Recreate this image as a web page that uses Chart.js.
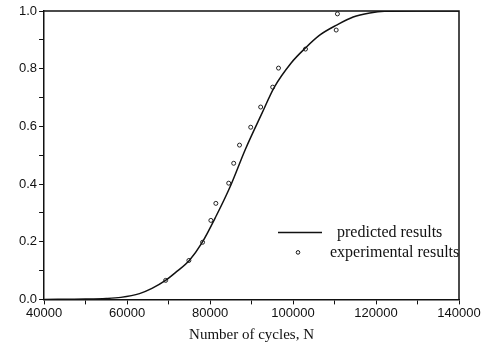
<!DOCTYPE html>
<html>
<head>
<meta charset="utf-8">
<script src="https://cdn.jsdelivr.net/npm/chart.js@4.4.0/dist/chart.umd.min.js"></script>
<style>
  html, body { margin: 0; padding: 0; background: #fff; }
  #wrap { position: relative; width: 487px; height: 347px; }
</style>
</head>
<body>
<div id="wrap"><canvas id="chart" width="487" height="347"></canvas></div>
<script>
// predicted curve
const curveCycles = [40000, 50000, 55000, 58500, 63000, 66000, 69000, 72000, 75000, 78000, 81500, 85000, 88500, 92500, 95500, 99500, 103000, 106500, 110500, 114500, 118500, 122000, 130000, 140000]
const curveFraction = [0, 0.001, 0.003, 0.007, 0.02, 0.038, 0.063, 0.097, 0.135, 0.195, 0.29, 0.396, 0.52, 0.645, 0.736, 0.819, 0.872, 0.917, 0.951, 0.979, 0.993, 0.999, 1.0, 1.0]

// experimental points
const expCycles = [69300, 74900, 78200, 80200, 81400, 84500, 85700, 87100, 89800, 92200, 95100, 96500, 103000, 110400, 110700]
const expFraction = [0.066, 0.135, 0.198, 0.274, 0.333, 0.403, 0.472, 0.535, 0.597, 0.667, 0.736, 0.802, 0.868, 0.934, 0.99]

const seriesNames = ["predicted results", "experimental results"]
const xAxisTitle = "Number of cycles, N"

const xMin = 40000, xMax = 140000, xMajor = 20000, xMinor = 10000
const yMin = 0, yMax = 1, yMinor = 0.1

const tickFont = { family: "'Liberation Sans', Arial, sans-serif", size: 13 }
const serif = "'Liberation Serif', 'Times New Roman', serif"

// frame on top/right + legend inside the plot
const framePlugin = {
  id: "frameLegend",
  afterDraw(chart) {
    const { ctx, chartArea: a } = chart
    ctx.save()
    ctx.strokeStyle = "#111"
    ctx.lineWidth = 1.5
    ctx.beginPath()
    ctx.moveTo(a.left, a.top)
    ctx.lineTo(a.right, a.top)
    ctx.lineTo(a.right, a.bottom)
    ctx.stroke()

    // legend
    ctx.font = "16px " + serif
    ctx.fillStyle = "#111"
    ctx.textBaseline = "middle"
    ctx.textAlign = "left"
    ctx.beginPath()
    ctx.moveTo(a.right - 181, a.bottom - 67)
    ctx.lineTo(a.right - 137, a.bottom - 67)
    ctx.stroke()
    ctx.fillText(seriesNames[0], a.right - 122, a.bottom - 67)

    ctx.lineWidth = 1
    ctx.beginPath()
    ctx.arc(a.right - 161, a.bottom - 47, 1.8, 0, Math.PI * 2)
    ctx.stroke()
    ctx.fillText(seriesNames[1], a.right - 129, a.bottom - 47)
    ctx.restore()
  },
}

new Chart(document.getElementById("chart"), {
  type: "scatter",
  data: {
    datasets: [
      {
        label: seriesNames[0],
        data: curveCycles.map((x, i) => ({ x: x, y: curveFraction[i] })),
        showLine: true,
        borderColor: "#111",
        borderWidth: 1.5,
        pointRadius: 0,
        cubicInterpolationMode: "monotone",
        fill: false,
      },
      {
        label: seriesNames[1],
        data: expCycles.map((x, i) => ({ x: x, y: expFraction[i] })),
        showLine: false,
        pointRadius: 2,
        pointBorderWidth: 1,
        pointBorderColor: "#222",
        pointBackgroundColor: "#fff",
      },
    ],
  },
  options: {
    responsive: false,
    animation: false,
    layout: { padding: { left: 17, right: 28, top: 11, bottom: 3 } },
    plugins: {
      legend: { display: false },
      tooltip: { enabled: false },
    },
    scales: {
      x: {
        type: "linear",
        min: xMin,
        max: xMax,
        border: { display: true, color: "#111", width: 1.5 },
        grid: { drawOnChartArea: false, tickLength: 5, tickColor: "#111" },
        ticks: {
          stepSize: xMinor,
          autoSkip: false,
          maxRotation: 0,
          color: "#111",
          font: tickFont,
          padding: 1,
          callback: (v) => (v % xMajor === 0 ? String(v) : ""),
        },
        title: {
          display: true,
          text: xAxisTitle,
          color: "#111",
          font: { family: serif, size: 15 },
          padding: { top: 4, bottom: 0 },
        },
      },
      y: {
        type: "linear",
        min: yMin,
        max: yMax,
        border: { display: true, color: "#111", width: 1.5 },
        grid: { drawOnChartArea: false, tickLength: 5, tickColor: "#111" },
        ticks: {
          stepSize: yMinor,
          autoSkip: false,
          color: "#111",
          font: tickFont,
          padding: 2,
          callback: (v) => (Math.round(v * 10) % 2 === 0 ? v.toFixed(1) : ""),
        },
      },
    },
  },
  plugins: [framePlugin],
})
</script>
</body>
</html>
